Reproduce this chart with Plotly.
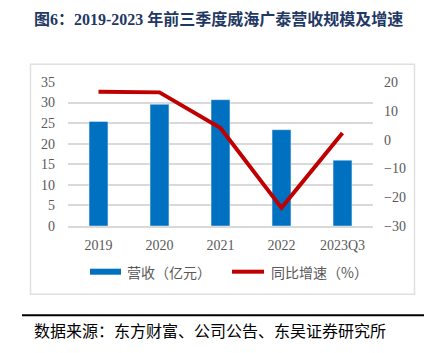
import plotly.graph_objects as go

categories = ["2019", "2020", "2021", "2022", "2023Q3"]
revenue = [25.4, 29.6, 30.7, 23.4, 16.0]
growth = [16.6, 16.4, 4.0, -23.7, 2.3]
title_text = "图6：2019-2023 年前三季度威海广泰营收规模及增速"
source_text = "数据来源：东方财富、公司公告、东吴证券研究所"
legend_names = ["营收（亿元）", "同比增速（%）"]

W, H = 433, 353
L, R, T, B = 68, 373, 82.3, 226.3
def px(x):
    return (x - L) / (R - L)
def py(y):
    return (B - y) / (B - T)

BLUE = "#0070C0"
RED = "#C00000"
TICK = "#595959"
serif = "Liberation Serif, Noto Sans CJK SC"
cjk = "Noto Sans CJK SC"

fig = go.Figure()
fig.add_trace(go.Bar(x=categories, y=revenue, marker_color=BLUE, width=0.31,
                     name=legend_names[0], showlegend=False))
fig.add_trace(go.Scatter(x=categories, y=growth, yaxis="y2", mode="lines",
                         line=dict(color=RED, width=4), name=legend_names[1],
                         showlegend=False))

shapes = [
    # outer frame
    dict(type="rect", xref="paper", yref="paper", x0=px(30.5), x1=px(414.5),
         y0=py(294.5), y1=py(64.5), line=dict(color="#E0E0E0", width=1.5), layer="below"),
    # source rule
    dict(type="line", xref="paper", yref="paper", x0=px(22), x1=px(424),
         y0=py(315.5), y1=py(315.5), line=dict(color="#000000", width=2)),
    # legend swatches
    dict(type="rect", xref="paper", yref="paper", x0=px(90), x1=px(121),
         y0=py(275), y1=py(269), fillcolor=BLUE, line=dict(width=0)),
    dict(type="line", xref="paper", yref="paper", x0=px(232), x1=px(264),
         y0=py(272), y1=py(272), line=dict(color=RED, width=4)),
]

annotations = [
    dict(text=title_text, xref="paper", yref="paper", x=px(32), y=py(19),
         xanchor="left", yanchor="middle", showarrow=False,
         font=dict(family=serif, size=16, color="#1F3864", weight="bold")),
    dict(text=source_text, xref="paper", yref="paper", x=px(32), y=py(330),
         xanchor="left", yanchor="middle", showarrow=False,
         font=dict(family=cjk, size=16, color="#000000")),
    dict(text=legend_names[0], xref="paper", yref="paper", x=px(125), y=py(272),
         xanchor="left", yanchor="middle", showarrow=False,
         font=dict(family=cjk, size=14, color=TICK)),
    dict(text=legend_names[1], xref="paper", yref="paper", x=px(269), y=py(272),
         xanchor="left", yanchor="middle", showarrow=False,
         font=dict(family=cjk, size=14, color=TICK)),
]

fig.update_layout(
    width=W, height=H,
    margin=dict(l=L, r=W - R, t=T, b=H - B, pad=0),
    paper_bgcolor="white", plot_bgcolor="white",
    showlegend=False,
    bargap=0.69,
    xaxis=dict(tickfont=dict(family=serif, size=14, color=TICK), showline=True,
               linecolor="#D9D9D9", linewidth=1.5, ticks="", ticklabelstandoff=5),
    yaxis=dict(range=[0, 35], dtick=5, showgrid=True, gridcolor="#D9D9D9", gridwidth=1.5,
               zeroline=False, showline=False,
               tickfont=dict(family=serif, size=14, color=TICK), ticklabelstandoff=12),
    yaxis2=dict(range=[-30, 20], dtick=10, overlaying="y", side="right", showgrid=False,
                zeroline=False, showline=False,
                tickfont=dict(family=serif, size=14, color=TICK), ticklabelstandoff=10),
    shapes=shapes, annotations=annotations,
)

fig.write_html("out.html")
